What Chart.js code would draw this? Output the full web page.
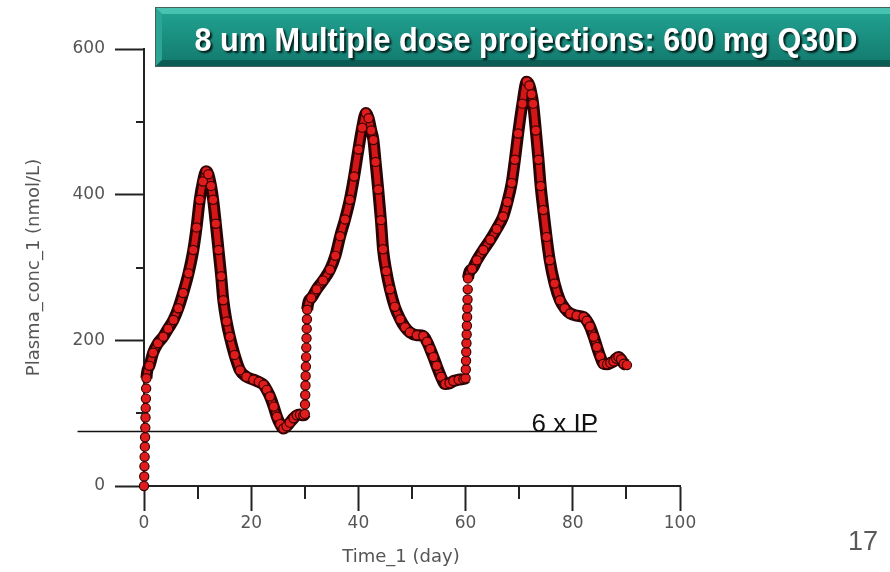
<!DOCTYPE html>
<html lang="en">
<head>
  <meta charset="UTF-8">
  <title>8 um Multiple dose projections</title>
  <script src="https://cdn.jsdelivr.net/npm/chart.js"></script>
  <style>
    html, body { margin: 0; padding: 0; background: #fff; }
    #wrap { position: relative; width: 890px; height: 572px; }
  </style>
</head>
<body>
  <div id="wrap"><canvas id="pkChart"></canvas></div>

  <script>
    // simulated plasma concentration, one block per 30-day dose interval (days, nmol/L)
    const cycle1Time = [0, 0.04, 0.08, 0.12, 0.16, 0.2, 0.24, 0.28, 0.32, 0.36, 0.4, 0.45,
      1.0, 1.7, 2.6, 3.6, 4.5, 5.5, 6.4, 7.3, 8.3, 9.2,
      9.8, 10.4, 11.0, 11.6, 12.0, 12.5, 12.9, 13.4, 13.9, 14.4,
      14.8, 15.4, 16.0, 16.9, 17.9, 19.1, 20.4, 21.4, 22.3, 22.9,
      23.5, 24.2, 24.8, 25.4, 26.0, 26.6, 27.2, 27.9, 28.5, 29.1, 29.7];
    const cycle1Conc = [0, 13, 27, 40, 54, 67, 80, 94, 107, 120, 134, 148,
      165, 183, 196, 205, 216, 228, 244, 265, 292, 324,
      355, 393, 418, 432, 428, 412, 393, 360, 324, 288,
      255, 226, 205, 180, 159, 150, 146, 143, 139, 132,
      123, 109, 95, 85, 79, 82, 87, 93, 97, 98, 97];

    const cycle2Time = [30.0, 30.04, 30.08, 30.12, 30.16, 30.2, 30.24, 30.28, 30.32, 30.36, 30.4, 30.45,
      31.2, 32.2, 33.4, 34.7, 35.7, 36.6, 37.5, 38.4, 39.2, 40.0,
      40.7, 41.4, 41.9, 42.4, 42.8, 43.2, 43.7, 44.2, 44.6, 45.2,
      45.9, 46.8, 47.8, 48.7, 49.6, 50.9, 52.1, 52.8, 53.4, 54.0,
      54.6, 55.4, 56.2, 57.0, 57.7, 58.7, 59.6];
    const cycle2Conc = [99, 112, 125, 138, 151, 164, 177, 190, 203, 216, 229, 242,
      258, 270, 282, 297, 316, 343, 366, 393, 425, 462,
      492, 512, 505, 488, 475, 445, 407, 365, 325, 295,
      270, 246, 229, 218, 211, 207, 206, 198, 188, 177,
      165, 150, 140, 141, 144, 146, 147];

    const cycle3Time = [60.0, 60.04, 60.08, 60.12, 60.16, 60.2, 60.24, 60.28, 60.32, 60.36, 60.4, 60.45,
      61.2, 62.1, 63.3, 64.6, 65.8, 67.0, 67.8, 68.6, 69.2, 69.8,
      70.6, 71.4, 71.9, 72.3, 72.6, 73.1, 73.6, 74.0, 74.5, 75.1,
      75.7, 76.6, 77.6, 78.5, 79.5, 80.7, 82.0, 82.6, 83.2, 83.9,
      84.5, 85.1, 85.7, 86.4, 87.0, 87.6, 88.1, 88.5, 89.0, 89.5, 90.1];
    const cycle3Conc = [148, 160, 172, 184, 196, 208, 220, 232, 244, 256, 270, 285,
      298, 310, 324, 338, 353, 370, 390, 416, 448, 484,
      525, 555, 550, 538, 525, 488, 448, 412, 379, 342,
      310, 278, 255, 244, 237, 234, 232, 227, 219, 205,
      191, 178, 168, 167, 169, 171, 175, 177, 174, 168, 166];

    // 6 x IP reference level and the span of its line (days)
    const ipLevel = 75;
    const ipSpan = [-12.4, 84.5];
    const ipLabel = '6 x IP';
    const ipLabelDay = 72.3;

    const chartTitle = '8 um Multiple dose projections: 600 mg Q30D';
    const xTitle = 'Time_1 (day)';
    const yTitle = 'Plasma_conc_1 (nmol/L)';
    const slideNumber = '17';

    const times = [...cycle1Time, ...cycle2Time, ...cycle3Time];
    const concs = [...cycle1Conc, ...cycle2Conc, ...cycle3Conc];
    const curve = times.map((t, i) => ({ x: t, y: concs[i] }));
    const ipLine = ipSpan.map(t => ({ x: t, y: ipLevel }));

    // dose jumps are drawn as loose beads, no ribbon behind them
    const jumpSegment = ctx => (ctx.p1.parsed.x - ctx.p0.parsed.x < 0.1 ? 'rgba(0,0,0,0)' : undefined);

    function drawBanner(ctx) {
      const x0 = 155, y0 = 7, x1 = 905, y1 = 67, b = 7;
      const g = ctx.createLinearGradient(0, y0, 0, y1);
      g.addColorStop(0, '#22a594');
      g.addColorStop(1, '#12786c');
      ctx.fillStyle = g;
      ctx.fillRect(x0, y0, x1 - x0, y1 - y0);

      ctx.fillStyle = '#48c3b2';
      ctx.beginPath();
      ctx.moveTo(x0, y0); ctx.lineTo(x1, y0); ctx.lineTo(x1 - b, y0 + b); ctx.lineTo(x0 + b, y0 + b);
      ctx.closePath(); ctx.fill();

      ctx.fillStyle = '#2ca595';
      ctx.beginPath();
      ctx.moveTo(x0, y0); ctx.lineTo(x0 + b, y0 + b); ctx.lineTo(x0 + b, y1 - b); ctx.lineTo(x0, y1);
      ctx.closePath(); ctx.fill();

      ctx.fillStyle = '#0b5d54';
      ctx.beginPath();
      ctx.moveTo(x0, y1); ctx.lineTo(x0 + b, y1 - b); ctx.lineTo(x1 - b, y1 - b); ctx.lineTo(x1, y1);
      ctx.closePath(); ctx.fill();

      ctx.strokeStyle = '#46605c';
      ctx.lineWidth = 1;
      ctx.strokeRect(x0 + 0.5, y0 + 0.5, x1 - x0, y1 - y0 - 1);

      // condensed bold white heading with a drop shadow
      ctx.font = 'bold 34px "Liberation Sans Narrow", "Liberation Sans", Arial, sans-serif';
      ctx.textAlign = 'center';
      ctx.textBaseline = 'alphabetic';
      const w = ctx.measureText(chartTitle).width;
      ctx.save();
      ctx.translate(526, 51);
      ctx.scale(663 / w, 1);
      ctx.shadowColor = 'rgba(0,0,0,0.8)';
      ctx.shadowOffsetX = 2;
      ctx.shadowOffsetY = 2;
      ctx.shadowBlur = 2;
      ctx.fillStyle = '#ffffff';
      ctx.fillText(chartTitle, 0, 0);
      ctx.restore();
    }

    const decorations = {
      id: 'decorations',
      beforeDraw(chart) {
        const ctx = chart.ctx;
        ctx.save();
        ctx.fillStyle = '#fff';
        ctx.fillRect(0, 0, chart.width, chart.height);
        ctx.restore();
      },
      afterDraw(chart) {
        const { ctx, scales: { x, y } } = chart;
        ctx.save();

        // short minor ticks between the labelled ones
        ctx.strokeStyle = '#222';
        ctx.lineWidth = 2;
        ctx.beginPath();
        for (let i = 1; i < x.ticks.length; i++) {
          const px = Math.round(x.getPixelForValue((x.ticks[i - 1].value + x.ticks[i].value) / 2));
          ctx.moveTo(px, y.bottom);
          ctx.lineTo(px, y.bottom + 13);
        }
        for (let i = 1; i < y.ticks.length; i++) {
          const py = Math.round(y.getPixelForValue((y.ticks[i - 1].value + y.ticks[i].value) / 2));
          ctx.moveTo(x.left - 8, py);
          ctx.lineTo(x.left, py);
        }
        ctx.stroke();

        // x axis title
        ctx.fillStyle = '#555';
        ctx.font = '18px "DejaVu Sans", Verdana, sans-serif';
        ctx.textAlign = 'center';
        ctx.textBaseline = 'middle';
        ctx.fillText(xTitle, 401, 557);

        // reference level label
        ctx.fillStyle = '#111';
        ctx.font = '26px "Liberation Sans", Arial, sans-serif';
        ctx.textAlign = 'left';
        ctx.textBaseline = 'alphabetic';
        ctx.fillText(ipLabel, x.getPixelForValue(ipLabelDay), y.getPixelForValue(ipLevel) + 1);

        // slide number
        ctx.fillStyle = '#595959';
        ctx.font = '27px "Liberation Sans", Arial, sans-serif';
        ctx.textAlign = 'right';
        ctx.fillText(slideNumber, 878, 550);

        drawBanner(ctx);
        ctx.restore();
      }
    };

    const tickFont = { family: 'DejaVu Sans', size: 17 };

    new Chart(document.getElementById('pkChart'), {
      type: 'scatter',
      data: {
        datasets: [
          {
            label: 'Plasma_conc_1',
            data: curve,
            showLine: true,
            cubicInterpolationMode: 'monotone',
            borderColor: '#d41616',
            borderWidth: 6,
            segment: { borderColor: jumpSegment },
            pointRadius: 4.6,
            pointBackgroundColor: '#e01c1c',
            pointBorderColor: '#3a0303',
            pointBorderWidth: 1.2,
            clip: false,
            order: 0
          },
          {
            label: 'outline',
            data: curve,
            showLine: true,
            cubicInterpolationMode: 'monotone',
            borderColor: '#2a0404',
            borderWidth: 12,
            segment: { borderColor: jumpSegment },
            pointRadius: 0,
            clip: false,
            order: 1
          },
          {
            label: ipLabel,
            data: ipLine,
            showLine: true,
            borderColor: '#111',
            borderWidth: 1.5,
            pointRadius: 0,
            clip: false,
            order: 2
          }
        ]
      },
      options: {
        responsive: true,
        maintainAspectRatio: false,
        animation: false,
        layout: { padding: { left: 0, top: 49, right: 210, bottom: 0 } },
        plugins: {
          legend: { display: false },
          tooltip: { enabled: false }
        },
        scales: {
          x: {
            type: 'linear',
            min: 0,
            max: 100,
            afterFit: s => { s.height = 86; },
            border: { color: '#222', width: 2 },
            grid: { drawOnChartArea: false, tickLength: 25, tickColor: '#222', tickWidth: 2 },
            ticks: { stepSize: 20, padding: 2, color: '#555', font: tickFont, maxRotation: 0 }
          },
          y: {
            min: 0,
            max: 600,
            afterFit: s => { s.width = 144; },
            border: { color: '#222', width: 2 },
            grid: { drawOnChartArea: false, tickLength: 29, tickColor: '#222', tickWidth: 2 },
            ticks: { stepSize: 200, padding: 10, color: '#555', font: tickFont },
            title: {
              display: true,
              text: yTitle,
              color: '#555',
              font: { family: 'DejaVu Sans', size: 18 },
              padding: { top: 24 }
            }
          }
        }
      },
      plugins: [decorations]
    });
  </script>
</body>
</html>
